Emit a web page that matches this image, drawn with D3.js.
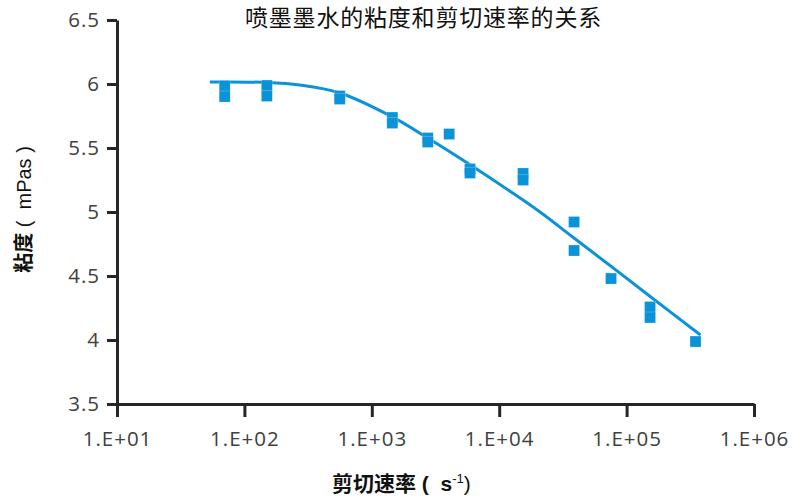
<!DOCTYPE html>
<html>
<head>
<meta charset="utf-8">
<script src="https://cdn.jsdelivr.net/npm/d3@7"></script>
<style>
  html, body { margin: 0; padding: 0; background: #ffffff; }
  svg { display: block; }
</style>
</head>
<body>
<svg id="chart" width="811" height="498"></svg>
<script>
// Measured shear rate (s^-1) and viscosity (mPas) samples
const shearRate = [70, 70, 150, 150, 560, 560, 1450, 1450, 2750, 2750, 4050,
                   5900, 5900, 15400, 15400, 38700, 38700, 75500, 152800, 152800, 347600];
const viscosity = [5.984, 5.902, 5.988, 5.906, 5.906, 5.883, 5.738, 5.695, 5.578, 5.547, 5.609,
                   5.336, 5.305, 5.301, 5.250, 4.922, 4.699, 4.480, 4.258, 4.176, 3.988];

// Fitted trend curve through the samples
const trendRate = [53.6, 150, 272, 561, 1436, 2750, 5870, 12090, 20790, 38390, 74960, 151400, 380200];
const trendVisc = [6.016, 6.012, 5.992, 5.930, 5.745, 5.578, 5.371, 5.164, 5.002, 4.799, 4.578, 4.344, 4.039];

// Axis ticks
const xTicks = [1e1, 1e2, 1e3, 1e4, 1e5, 1e6];
const xTickLabels = ["1.E+01", "1.E+02", "1.E+03", "1.E+04", "1.E+05", "1.E+06"];
const yTicks = [3.5, 4, 4.5, 5, 5.5, 6, 6.5];
const yTickLabels = ["3.5", "4", "4.5", "5", "5.5", "6", "6.5"];

const blue = "#0a93d8";
const axisColor = "#262626";
const labelColor = "#404040";
const latinFont = "'Open Sans', 'Noto Sans', sans-serif";
const cjkFont = "'Noto Sans CJK SC', 'Noto Sans', sans-serif";
const arialFont = "'Liberation Sans', Arial, sans-serif";

const svg = d3.select("#chart");
const plot = { left: 117, right: 754, top: 20, bottom: 404 };

const x = d3.scaleLog().domain([1e1, 1e6]).range([plot.left, plot.right]);
const y = d3.scaleLinear().domain([3.5, 6.5]).range([plot.bottom, plot.top]);

// Title
svg.append("text")
  .attr("x", 423.5).attr("y", 25.5)
  .attr("text-anchor", "middle")
  .attr("font-family", cjkFont)
  .attr("font-size", 23)
  .attr("letter-spacing", 0.8)
  .attr("fill", "#111")
  .text("喷墨墨水的粘度和剪切速率的关系");

// Axes
const xAxis = d3.axisBottom(x)
  .tickValues(xTicks)
  .tickFormat((d, i) => xTickLabels[i])
  .tickSize(13)
  .tickSizeOuter(0)
  .tickPadding(14);
const gx = svg.append("g").attr("transform", `translate(0,${plot.bottom})`).call(xAxis);

const yAxis = d3.axisLeft(y)
  .tickValues(yTicks)
  .tickFormat((d, i) => yTickLabels[i])
  .tickSize(10)
  .tickSizeOuter(0)
  .tickPadding(7);
const gy = svg.append("g").attr("transform", `translate(${plot.left},0)`).call(yAxis);

[gx, gy].forEach(g => {
  g.select(".domain").attr("stroke", axisColor).attr("stroke-width", 3);
  g.selectAll(".tick line").attr("stroke", axisColor).attr("stroke-width", 3);
  g.selectAll(".tick text")
    .attr("fill", labelColor)
    .attr("font-family", latinFont)
    .attr("font-size", 20.5)
    .attr("letter-spacing", 1);
});

// Trend curve
const line = d3.line()
  .x((d, i) => x(trendRate[i]))
  .y((d, i) => y(trendVisc[i]))
  .curve(d3.curveCatmullRom.alpha(0.5));
svg.append("path")
  .datum(trendRate)
  .attr("d", line)
  .attr("fill", "none")
  .attr("stroke", blue)
  .attr("stroke-width", 3);

// Sample markers
const size = 11;
svg.append("g").selectAll("rect")
  .data(shearRate)
  .join("rect")
  .attr("x", d => x(d) - size / 2)
  .attr("y", (d, i) => y(viscosity[i]) - size / 2)
  .attr("width", size)
  .attr("height", size)
  .attr("fill", blue)
  .attr("stroke", "#ffffff")
  .attr("stroke-opacity", 0.35)
  .attr("stroke-width", 0.6);

// Axis titles
const yTitle = svg.append("text")
  .attr("transform", "translate(31,209.5) rotate(-90)")
  .attr("text-anchor", "middle")
  .attr("font-size", 20)
  .attr("fill", "#111");
yTitle.append("tspan").attr("font-family", cjkFont).attr("font-weight", "bold").text("粘度");
yTitle.append("tspan").attr("font-family", arialFont).attr("xml:space", "preserve").text(" (  mPas )");

const xTitle = svg.append("text")
  .attr("x", 332).attr("y", 491)
  .attr("font-size", 21)
  .attr("fill", "#111");
xTitle.append("tspan").attr("font-family", cjkFont).attr("font-weight", "bold").text("剪切速率");
xTitle.append("tspan").attr("font-family", arialFont).attr("font-weight", "bold")
  .attr("xml:space", "preserve").text(" (  s");
xTitle.append("tspan").attr("font-family", arialFont)
  .attr("font-size", 13).attr("dy", -8).text("-1");
xTitle.append("tspan").attr("font-family", arialFont).attr("dy", 8).text(")");
</script>
</body>
</html>
